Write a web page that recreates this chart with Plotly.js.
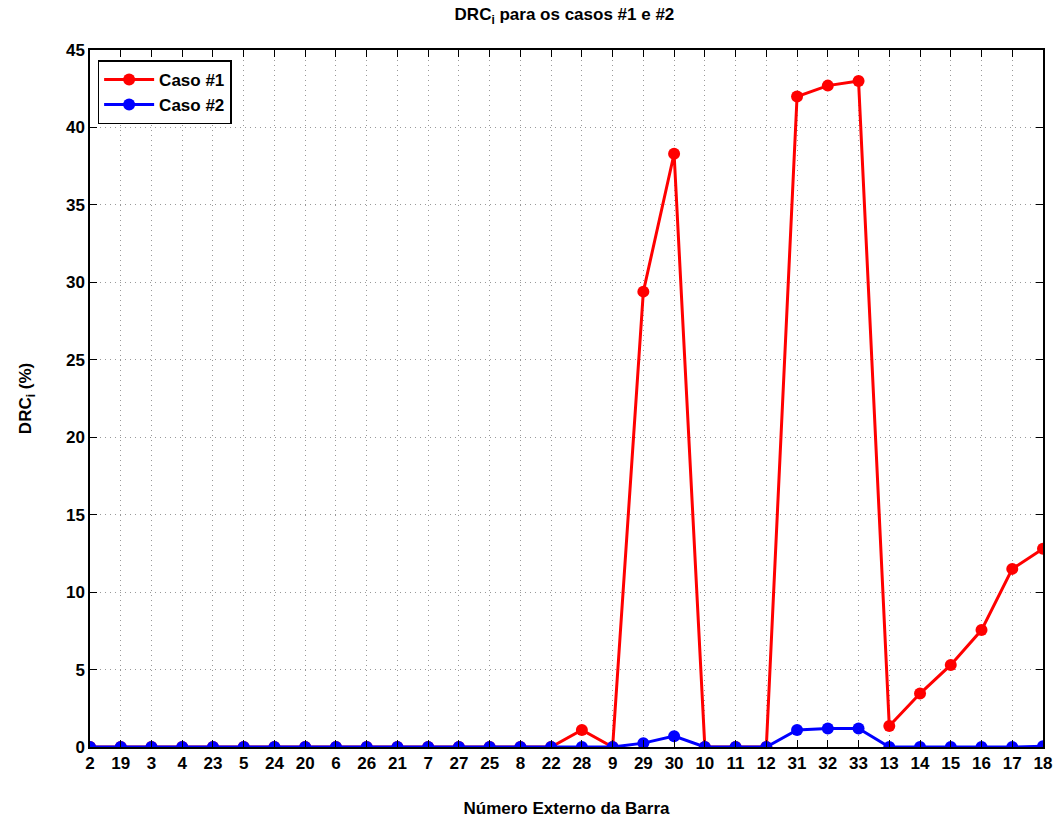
<!DOCTYPE html>
<html>
<head>
<meta charset="utf-8">
<script src="https://cdn.plot.ly/plotly-3.0.1.min.js"></script>
<style>html,body{margin:0;padding:0;background:#fff;}#chart{width:1059px;height:825px;}</style>
</head>
<body>
<div id="chart"></div>
<script>
// External bus numbers, in the order they appear along the x axis
const barras = ['2','19','3','4','23','5','24','20','6','26','21','7','27','25','8','22',
                '28','9','29','30','10','11','12','31','32','33','13','14','15','16','17','18'];

// DRC_i (%) per bus
const caso1 = [0,0,0,0,0,0,0,0,0,0,0,0,0,0,0,0,
               1.1,0,29.4,38.3,0,0,0,42.0,42.7,43.0,1.35,3.45,5.3,7.55,11.5,12.8];
const caso2 = [0,0,0,0,0,0,0,0,0,0,0,0,0,0,0,0,
               0,0,0.25,0.7,0,0,0,1.1,1.2,1.2,0,0,0,0,0,0.05];

const idx = barras.map((_, i) => i);
const fontFam = '"Liberation Sans", Arial, sans-serif';

const traces = [
  {x: idx, y: caso1, name: 'Caso #1', type: 'scatter', mode: 'lines+markers',
   line: {color: '#ff0000', width: 3}, marker: {color: '#ff0000', size: 12}},
  {x: idx, y: caso2, name: 'Caso #2', type: 'scatter', mode: 'lines+markers',
   line: {color: '#0000ff', width: 3}, marker: {color: '#0000ff', size: 12}}
];

const axisCommon = {
  showline: true, linecolor: '#000', linewidth: 1.5, mirror: 'ticks',
  ticks: 'inside', ticklen: 7, tickcolor: '#000', tickwidth: 1,
  showgrid: true, gridcolor: '#999999', griddash: '1px,4px', gridwidth: 1,
  zeroline: false,
  tickfont: {family: fontFam, size: 17, color: '#000', weight: 'bold'}
};

const layout = {
  width: 1059, height: 825,
  margin: {l: 90, r: 16, t: 50, b: 78},
  paper_bgcolor: '#fff', plot_bgcolor: '#fff',
  showlegend: true,
  title: {text: 'DRC<sub>i</sub> para os casos #1 e #2', x: 0.533, xanchor: 'center', y: 0.99, yanchor: 'top',
          font: {family: fontFam, size: 17, color: '#000', weight: 'bold'}},
  xaxis: Object.assign({}, axisCommon, {
    range: [0, barras.length - 1],
    tickmode: 'array', tickvals: idx, ticktext: barras, ticklabelstandoff: 0,
    title: {text: 'Número Externo da Barra', standoff: 30,
            font: {family: fontFam, size: 17, color: '#000', weight: 'bold'}}
  }),
  yaxis: Object.assign({}, axisCommon, {
    range: [0, 45], tickmode: 'linear', tick0: 0, dtick: 5,
    title: {text: 'DRC<sub>i</sub> (%)', standoff: 30,
            font: {family: fontFam, size: 17, color: '#000', weight: 'bold'}}
  }),
  legend: {x: 0.008, y: 0.985, xanchor: 'left', yanchor: 'top',
           bgcolor: '#fff', bordercolor: '#000', borderwidth: 1.5,
           font: {family: fontFam, size: 17, color: '#000', weight: 'bold'},
           tracegroupgap: 0, itemwidth: 50}
};

Plotly.newPlot('chart', traces, layout, {displayModeBar: false});
</script>
</body>
</html>
